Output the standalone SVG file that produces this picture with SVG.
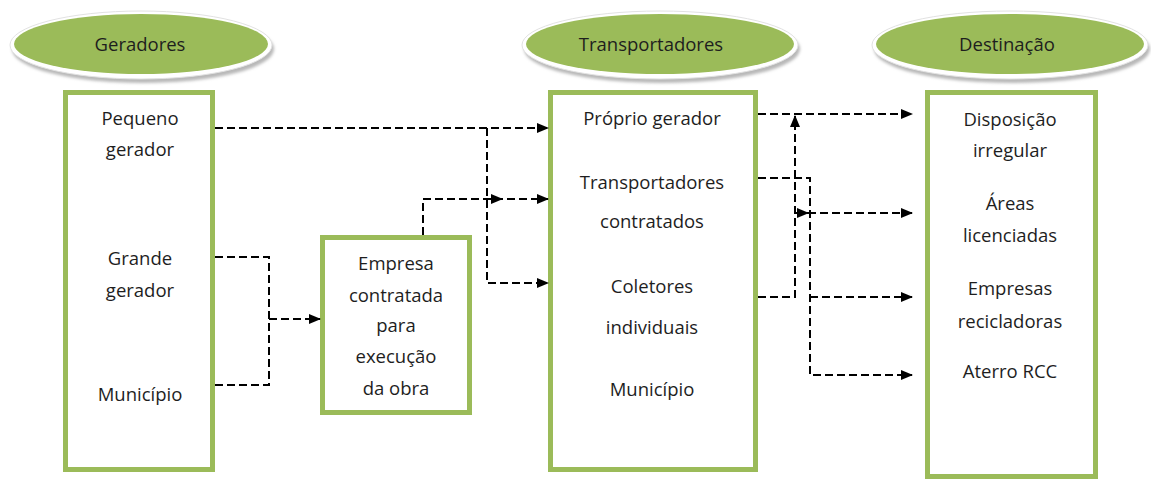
<svg xmlns="http://www.w3.org/2000/svg" width="1151" height="479" viewBox="0 0 1151 479">
<style>
.rim{fill:#ffffff;stroke:#e2e2e2;stroke-width:1}
.shadow{fill:#b8b8b8;filter:url(#blur)}
.oval{fill:#9bbb59}
.box{fill:#ffffff;stroke:#9bbb59;stroke-width:5}
.t{font-family:"Open Sans","Liberation Sans",sans-serif;font-size:18.5px;fill:#1e1e1e;text-anchor:middle}
.c{fill:none;stroke:#000000;stroke-width:2;stroke-dasharray:8 4}
.a{marker-end:url(#arr)}
</style>
<defs>
<filter id="blur" x="-10%" y="-20%" width="120%" height="140%"><feGaussianBlur stdDeviation="1.5"/></filter>
<marker id="arr" markerWidth="12" markerHeight="10" refX="11" refY="5" orient="auto" markerUnits="userSpaceOnUse">
<path d="M0,0 L12,5 L0,10 Z" fill="#000000"/>
</marker>
</defs>

<g id="header-geradores">
<ellipse class="shadow" cx="143" cy="49" rx="131" ry="34"/>
<ellipse class="rim" cx="141" cy="45" rx="131" ry="34"/>
<ellipse class="oval" cx="141" cy="44" rx="127" ry="30"/>
<text class="t" x="140" y="51">Geradores</text>
</g>
<g id="header-transportadores">
<ellipse class="shadow" cx="662" cy="49" rx="138" ry="34"/>
<ellipse class="rim" cx="660" cy="45" rx="138" ry="34"/>
<ellipse class="oval" cx="660" cy="44" rx="134" ry="30"/>
<text class="t" x="651" y="51">Transportadores</text>
</g>
<g id="header-destinacao">
<ellipse class="shadow" cx="1012" cy="49" rx="138" ry="34"/>
<ellipse class="rim" cx="1010" cy="45" rx="138" ry="34"/>
<ellipse class="oval" cx="1010" cy="44" rx="134" ry="30"/>
<text class="t" x="1007" y="51">Destinação</text>
</g>

<g id="box-geradores">
<rect class="box" x="65.5" y="92.5" width="147" height="377"/>
<text class="t" x="140" y="125">Pequeno</text>
<text class="t" x="140" y="156">gerador</text>
<text class="t" x="140" y="265">Grande</text>
<text class="t" x="140" y="297">gerador</text>
<text class="t" x="140" y="401">Município</text>
</g>
<g id="box-empresa">
<rect class="box" x="322.5" y="237.5" width="147" height="175"/>
<text class="t" x="396" y="270">Empresa</text>
<text class="t" x="396" y="302">contratada</text>
<text class="t" x="396" y="332">para</text>
<text class="t" x="396" y="363">execução</text>
<text class="t" x="396" y="395">da obra</text>
</g>
<g id="box-transportadores">
<rect class="box" x="550.5" y="92.5" width="205" height="377"/>
<text class="t" x="652" y="125">Próprio gerador</text>
<text class="t" x="652" y="189">Transportadores</text>
<text class="t" x="652" y="228">contratados</text>
<text class="t" x="652" y="293">Coletores</text>
<text class="t" x="652" y="334">individuais</text>
<text class="t" x="652" y="396">Município</text>
</g>
<g id="box-destinacao">
<rect class="box" x="927.5" y="92.5" width="168" height="384"/>
<text class="t" x="1010" y="126">Disposição</text>
<text class="t" x="1010" y="157">irregular</text>
<text class="t" x="1010" y="210">Áreas</text>
<text class="t" x="1010" y="242">licenciadas</text>
<text class="t" x="1010" y="295">Empresas</text>
<text class="t" x="1010" y="328">recicladoras</text>
<text class="t" x="1010" y="378">Aterro RCC</text>
</g>

<g id="connectors">
<path class="c a" d="M215,128 H548"/>
<path class="c a" d="M487,128 V283 H548"/>
<path class="c a" d="M423,235 V199 H548"/>
<path class="c a" d="M487,199 H502"/>
<path class="c" d="M215,257 H269 V385 H215"/>
<path class="c a" d="M269,319 H320"/>
<path class="c a" d="M758,114 H912"/>
<path class="c a" d="M758,297 H795 V116"/>
<path class="c a" d="M758,178 H810 V375 H912"/>
<path class="c a" d="M795,213 H808"/>
<path class="c a" d="M808,213 H912"/>
<path class="c a" d="M810,297 H912"/>
</g>
</svg>
